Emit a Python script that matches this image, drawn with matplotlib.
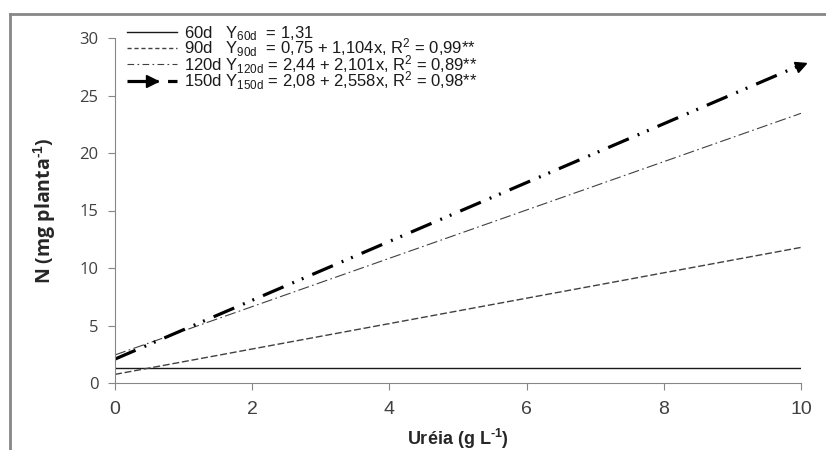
import matplotlib
matplotlib.use('Agg')
import matplotlib.pyplot as plt
from matplotlib.lines import Line2D
from matplotlib.markers import MarkerStyle
from matplotlib.transforms import Affine2D

plt.rcParams['font.family'] = ['Liberation Sans', 'DejaVu Sans']
plt.rcParams['mathtext.fontset'] = 'custom'
plt.rcParams['mathtext.rm'] = 'Liberation Sans'
plt.rcParams['mathtext.it'] = 'Liberation Sans:italic'
plt.rcParams['mathtext.bf'] = 'Liberation Sans:bold'

# dados (retas ajustadas)
ureia = [0, 10]
n_60d = [1.31, 1.31]
n_90d = [0.75, 11.79]
n_120d = [2.44, 23.45]
n_150d = [2.08, 27.66]

labels = [
    "60d   Y$_{\\mathrm{60d}}$  = 1,31",
    "90d   Y$_{\\mathrm{90d}}$  = 0,75 + 1,104x, R$^{\\mathrm{2}}$ = 0,99**",
    "120d Y$_{\\mathrm{120d}}$ = 2,44 + 2,101x, R$^{\\mathrm{2}}$ = 0,89**",
    "150d Y$_{\\mathrm{150d}}$ = 2,08 + 2,558x, R$^{\\mathrm{2}}$ = 0,98**",
]
xticks = [0, 2, 4, 6, 8, 10]
yticks = [0, 5, 10, 15, 20, 25, 30]

fig = plt.figure(figsize=(8.26, 4.5), dpi=100)
ax = fig.add_axes([115 / 826, 1 - 383 / 450, (801 - 115) / 826, (383 - 38) / 450])

# moldura cinza (topo e esquerda)
fig.add_artist(Line2D([10 / 826, 1], [1 - 14 / 450, 1 - 14 / 450], transform=fig.transFigure, color='#878787', lw=2))
fig.add_artist(Line2D([10 / 826, 10 / 826], [0, 1 - 14 / 450], transform=fig.transFigure, color='#878787', lw=2))

ax.plot(ureia, n_60d, color='#1a1a1a', lw=1.0, solid_capstyle='butt')
ax.plot(ureia, n_90d, color='#404040', lw=1.0, dashes=(5, 2))
ax.plot(ureia, n_120d, color='#404040', lw=0.8, dashes=(10, 3, 1.5, 3))
ax.plot(ureia, n_150d, color='black', lw=2.3, dashes=(7, 3, 0.6, 2.6, 0.6, 3))
# seta no final da reta de 150d
arrow = MarkerStyle('>', transform=Affine2D().rotate_deg(23))
ax.plot(ureia[-1:], n_150d[-1:], ls='none', marker=arrow, ms=8, color='black', clip_on=False)

ax.set_xlim(0, 10)
ax.set_ylim(0, 30)
ax.set_xticks(xticks)
ax.set_yticks(yticks)
ax.set_yticklabels([str(v) for v in yticks], fontfamily='Open Sans', fontsize=12)
ax.set_xticklabels([str(v) for v in xticks], fontsize=14)
for s in ['top', 'right']:
    ax.spines[s].set_visible(False)
for s in ['left', 'bottom']:
    ax.spines[s].set_color('#868686')
ax.tick_params(axis='both', direction='out', length=5, color='#868686', labelcolor='#404040')
ax.tick_params(axis='y', pad=7)
ax.tick_params(axis='x', pad=8)

ax.set_xlabel('Uréia (g L$^{\\mathbf{\u2010 1}}$)', fontsize=13, fontweight='bold', color='#262626')
ax.xaxis.set_label_coords(0.5, (383 - 427) / 345, transform=ax.transAxes)
ax.set_ylabel('N (mg planta$^{\\mathbf{\u20101}}$)', fontsize=14, fontweight='bold',
              fontfamily=['Open Sans', 'DejaVu Sans'], color='#262626')
ax.yaxis.set_label_coords((58 - 115) / 686, 0.5, transform=ax.transAxes)

handles = [
    Line2D([], [], color='#1a1a1a', lw=1.0),
    Line2D([], [], color='#404040', lw=1.0, dashes=(3, 2)),
    Line2D([], [], color='#404040', lw=0.8, dashes=(6, 3, 1.5, 3)),
    Line2D([], [], color='black', lw=2.3, dashes=(6, 3, 0.7, 3), marker='>', ms=8, markevery=[-1]),
]
leg = ax.legend(handles, labels, loc='upper left', bbox_to_anchor=(127 / 826, 1 - 24 / 450),
                bbox_transform=fig.transFigure, frameon=False, fontsize=12, handlelength=3.0,
                handletextpad=0.4, labelspacing=-0.37, borderpad=0, borderaxespad=0)
for t in leg.get_texts():
    t.set_color('#1a1a1a')

fig.savefig('out.png', dpi=100)
